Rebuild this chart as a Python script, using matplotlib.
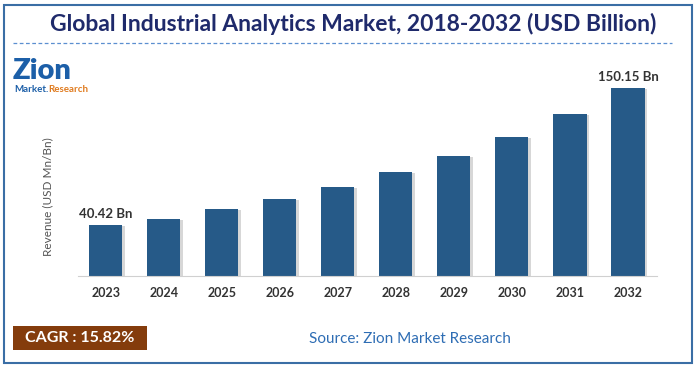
import matplotlib.pyplot as plt
from matplotlib.patches import Rectangle
from matplotlib.lines import Line2D
import numpy as np

plt.rcParams['font.family'] = ['Lato', 'DejaVu Sans']

# data
years = ['2023', '2024', '2025', '2026', '2027', '2028', '2029', '2030', '2031', '2032']
revenue = [40.42, 45.3, 53.3, 61.5, 71.1, 83.3, 96.1, 111.3, 129.4, 150.15]
first_label = '40.42 Bn'
last_label = '150.15 Bn'
title = 'Global Industrial Analytics Market, 2018-2032 (USD Billion)'
cagr_text = 'CAGR : 15.82%'
source_text = 'Source: Zion Market Research'

bar_color = '#265A88'

fig = plt.figure(figsize=(6.98, 3.69), dpi=100)
W, H = 698, 369

def fx(px):
    return px / W

def fy(py):
    return 1 - py / H

# outer frame
fig.patches.append(Rectangle((fx(4), fy(363)), fx(688), 358 / H, transform=fig.transFigure,
                             fill=False, edgecolor='#3A6EA5', linewidth=1.5))
# dashed line under the title
fig.lines.append(Line2D([fx(13), fx(672)], [fy(43), fy(43)], transform=fig.transFigure,
                        color='#5B8FD0', linestyle=(0, (3, 2)), linewidth=0.9))

fig.text(fx(353), fy(24), title, ha='center', va='center', fontsize=16.5,
         fontweight='bold', color='#1F2A6B')

# logo (text stand-in)
fig.text(fx(13), fy(71), 'Zion', ha='left', va='center', fontsize=21,
         fontweight='heavy', color='#1C5FA8')
fig.text(fx(14), fy(90), 'Market.', ha='left', va='center', fontsize=7,
         fontweight='bold', color='#1C5FA8')
fig.text(fx(48), fy(90), 'Research', ha='left', va='center', fontsize=7,
         fontweight='bold', color='#E07B1F')

# axes
ax = fig.add_axes([fx(78), fy(276), fx(657) - fx(78), (276 - 70) / H])
x = np.arange(len(years))
ax.bar(x + 0.05, [v - 0.8 for v in revenue], width=0.57, color='#BDBDBD', alpha=0.6, zorder=1)
ax.bar(x, revenue, width=0.57, color=bar_color, zorder=2)
ax.set_xlim(-0.48, 9.5)
ax.set_ylim(0, 206 / 1.2521)
for s in ['top', 'right', 'left']:
    ax.spines[s].set_visible(False)
ax.spines['bottom'].set_color('#D0D0D0')
ax.set_yticks([])
ax.set_xticks(x)
ax.set_xticklabels(years, fontsize=9, fontweight='bold', color='#333333')
ax.tick_params(axis='x', length=0, pad=8)

ax.text(x[0], revenue[0] + 4, first_label, ha='center', va='bottom', fontsize=9.5,
        fontweight='bold', color='#333333')
ax.text(x[-1], revenue[-1] + 4, last_label, ha='center', va='bottom', fontsize=9.5,
        fontweight='bold', color='#333333')

fig.text(fx(48), fy(197), 'Revenue (USD Mn/Bn)', rotation=90, ha='center', va='center',
         fontsize=8.5, color='#555555')

# CAGR box and source
fig.patches.append(Rectangle((fx(13), fy(350)), fx(134), 24 / H, transform=fig.transFigure,
                             facecolor='#843C0C', edgecolor='none'))
fig.text(fx(80), fy(338), cagr_text, ha='center', va='center', fontsize=11.5,
         fontweight='bold', color='white')
fig.text(fx(410), fy(339), source_text, ha='center', va='center', fontsize=11,
         color='#2E6DB4')

fig.savefig('out.png', dpi=100)
